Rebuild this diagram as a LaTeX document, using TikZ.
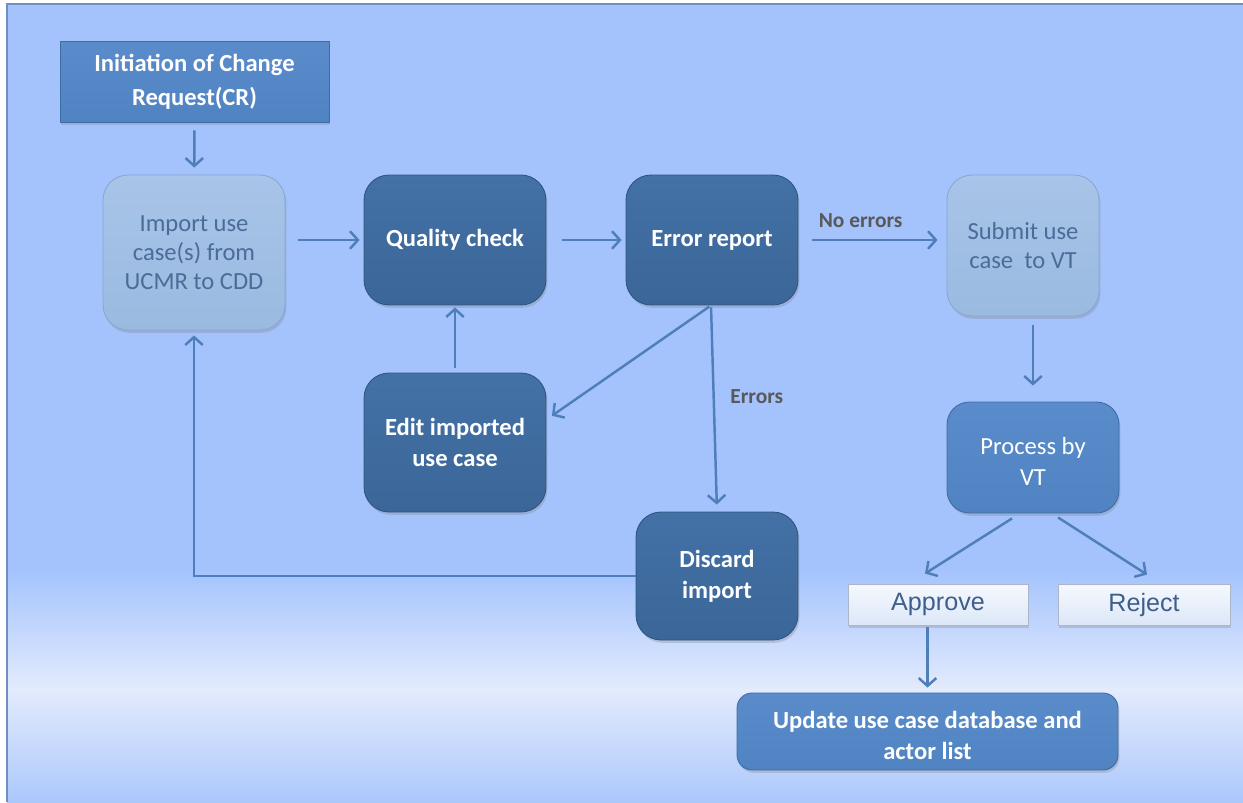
\documentclass[tikz,border=0pt]{standalone}
\usepackage{fontspec}
\setmainfont{Carlito}
\newfontfamily\arialf{Liberation Sans}
\usetikzlibrary{arrows.meta,shadows,calc}
\definecolor{bgtop}{HTML}{A4C3FD}
\definecolor{bgmid}{HTML}{E3EBFD}
\definecolor{bgbot}{HTML}{ABC8FC}
\definecolor{bord}{HTML}{6F90C4}
\definecolor{darkt}{HTML}{4471A6}
\definecolor{darkb}{HTML}{3A6698}
\definecolor{darkl}{HTML}{2F557F}
\definecolor{medt}{HTML}{5A8CCC}
\definecolor{medb}{HTML}{5083C2}
\definecolor{medl}{HTML}{3F6CA5}
\definecolor{lightt}{HTML}{A8C4E8}
\definecolor{lightb}{HTML}{9ABAE0}
\definecolor{lightl}{HTML}{87A8D0}
\definecolor{ltext}{HTML}{4A6C99}
\definecolor{arr}{HTML}{4F7FBA}
\definecolor{lbl}{HTML}{595959}
\definecolor{wt}{HTML}{F5F9FE}
\definecolor{wb}{HTML}{DCE7F7}
\definecolor{wl}{HTML}{A9B7C8}
\definecolor{wtext}{HTML}{3E5E8C}
\begin{document}
\begin{tikzpicture}[x=0.02cm,y=-0.02cm,
  box/.style={align=center, inner sep=2pt,
    drop shadow={shadow xshift=0.8pt, shadow yshift=-1.6pt, opacity=0.3}},
  darkbox/.style={box, rounded corners=0.5cm, top color=darkt, bottom color=darkb,
    draw=darkl, line width=0.5pt, text=white, font=\bfseries\fontsize{14}{17.5}\selectfont},
  medbox/.style={box, top color=medt, bottom color=medb, draw=medl, line width=0.5pt,
    text=white},
  lightbox/.style={box, rounded corners=0.5cm, top color=lightt, bottom color=lightb,
    draw=lightl, line width=0.5pt, text=ltext, font=\fontsize{14}{16.5}\selectfont},
  whitebox/.style={box, top color=wt, bottom color=wb, draw=wl, line width=0.5pt,
    text=wtext, font=\arialf\fontsize{14.3}{16}\selectfont,
    minimum height=0.82cm},
  flow/.style={draw=arr, line width=1.4pt,
    -{Straight Barb[length=4.5pt,width=10pt,line width=1.4pt]}},
  lab/.style={text=lbl, font=\bfseries\fontsize{12.2}{14}\selectfont}]
\useasboundingbox (0,0) rectangle (1243,802);
% background
\fill[white] (0,0) rectangle (1243,802);
\fill[bgtop] (7,4) rectangle (1243,571);
\shade[top color=bgtop, bottom color=bgmid] (7,570) rectangle (1243,690);
\shade[top color=bgmid, bottom color=bgbot] (7,689) rectangle (1243,802);
\draw[bord, line width=0.8pt] (7,802) -- (7,4) -- (1243,4);

% nodes
\node[medbox, minimum width=5.38cm, minimum height=1.62cm,
  font=\bfseries\fontsize{14}{19.3}\selectfont] (init) at (194.5,81.5)
  {Initiation of Change\\Request(CR)};
\node[lightbox, minimum width=3.64cm, minimum height=3.1cm] (imp) at (194,252.5)
  {Import use\\case(s) from\\UCMR to CDD};
\node[darkbox, minimum width=3.64cm, minimum height=2.6cm] (qc) at (455,240)
  {Quality check};
\node[darkbox, minimum width=3.44cm, minimum height=2.6cm] (err) at (712,240)
  {Error report};
\node[lightbox, minimum width=3.04cm, minimum height=2.82cm] (sub) at (1023,245.5)
  {Submit use\\case\ \ to VT};
\node[medbox, rounded corners=0.45cm, minimum width=3.44cm, minimum height=2.22cm,
  font=\fontsize{14}{17.5}\selectfont] (proc) at (1033,457.5)
  {\raisebox{-7.2pt}[0pt][0pt]{\begin{tabular}{@{}c@{}}Process by\\VT\end{tabular}}};
\node[whitebox, minimum width=3.6cm] (appr) at (938,604.5) {Approve};
\node[whitebox, minimum width=3.44cm] (rej) at (1144,604.5) {Reject};
\node[medbox, rounded corners=0.3cm, minimum width=7.62cm, minimum height=1.54cm,
  font=\bfseries\fontsize{14}{17.5}\selectfont] (upd) at (927.5,731.5)
  {\raisebox{-7.2pt}[0pt][0pt]{\begin{tabular}{@{}c@{}}Update use case database and\\actor list\end{tabular}}};
\node[darkbox, minimum width=3.64cm, minimum height=2.78cm] (edit) at (455,442.5)
  {Edit imported\\use case};
\node[darkbox, minimum width=3.24cm, minimum height=2.56cm] (disc) at (717,576)
  {Discard\\import};

% connectors
\draw[flow, shorten <=0.16cm, shorten >=0.14cm] (init) -- (imp);
\draw[flow, shorten <=0.26cm, shorten >=0.08cm] (imp.east |- qc.west) -- (qc.west);
\draw[flow, shorten <=0.32cm, shorten >=0.08cm] (qc) -- (err);
\draw[flow, shorten <=0.28cm, shorten >=0.18cm] (err.east) -- (err.east -| sub.west)
  node[lab, pos=0.42, above=3pt] {No errors};
\draw[flow, shorten <=0.18cm, shorten >=0.32cm] (sub.south -| proc.north) -- (proc.north);
\draw[flow, shorten <=0.1cm, shorten >=0.04cm] (edit) -- (qc);
\draw[flow, shorten <=0.04cm, shorten >=0.06cm] ($(err.south)+(-1,0)$) -- ($(edit.east)+(3,-25)$);
\draw[flow, shorten <=0.04cm, shorten >=0.14cm] ($(err.south)+(-1,0)$) -- (disc.north)
  node[lab, pos=0.44, right=5.5pt] {Errors};
\draw[flow, shorten >=0.1cm] (disc.west) -| (imp.south);
\draw[flow] ($(proc.south)+(-21,5)$) -- ($(appr.north)+(-13,-10)$);
\draw[flow] ($(proc.south)+(25,4)$) -- ($(rej.north)+(3,-9)$);
\draw[flow, shorten <=0.04cm, shorten >=0.1cm] (appr.south -| upd.north) -- (upd.north);
\end{tikzpicture}
\end{document}
